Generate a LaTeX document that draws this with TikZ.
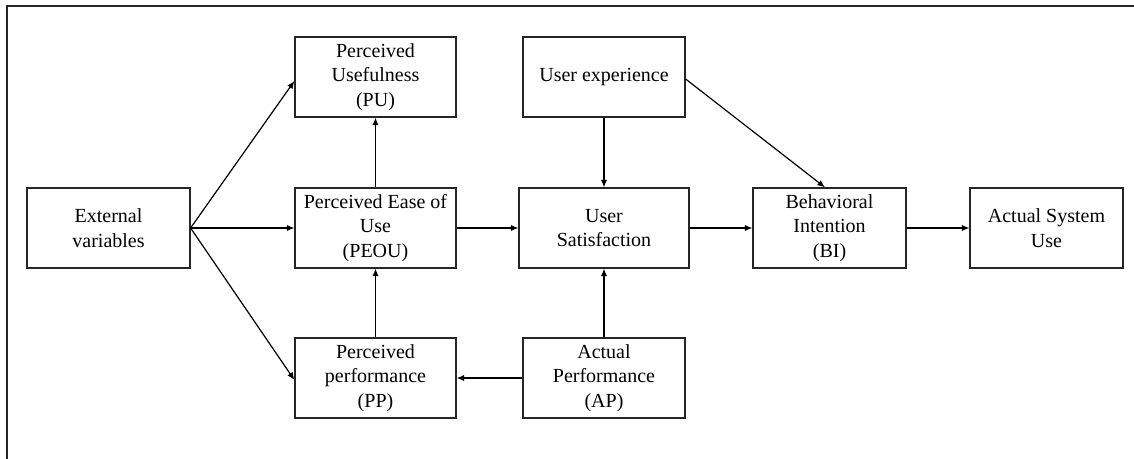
\documentclass[tikz,border=0pt]{standalone}
\usepackage{fontspec}
\setmainfont{Liberation Serif}
\usetikzlibrary{arrows.meta}
\begin{document}
\begin{tikzpicture}[x=0.5pt,y=-0.5pt,
  box/.style={draw=black!85, line width=0.6pt, inner sep=0pt, align=center,
    minimum height=40pt, font=\fontsize{10}{12.25}\selectfont},
  conn/.style={line width=0.6pt, -{Latex[length=3.8pt,width=3.2pt]}}]
\useasboundingbox (0,0) rectangle (1134,459);
\draw[line width=0.8pt, black!85] (7,459) -- (7,6) -- (1134,6);
\node[box, minimum width=81.5pt] (ext) at (108.5,228) {External\\variables};
\node[box, minimum width=80.5pt] (pu) at (375.5,77) {Perceived\\Usefulness\\(PU)};
\node[box, minimum width=80.5pt] (peou) at (375.5,228) {Perceived Ease of\\Use\\(PEOU)};
\node[box, minimum width=80.5pt] (pp) at (375.5,378) {Perceived\\performance\\(PP)};
\node[box, minimum width=81pt] (ue) at (604,77) {User experience};
\node[box, minimum width=85pt] (us) at (604,228) {User\\Satisfaction};
\node[box, minimum width=81pt] (ap) at (604,378) {Actual\\Performance\\(AP)};
\node[box, minimum width=76.5pt] (bi) at (829.5,228) {Behavioral\\Intention\\(BI)};
\node[box, minimum width=76.5pt] (asu) at (1046.5,228) {Actual System\\Use};
\draw[conn] (ext.east) -- ([yshift=-2pt]pu.west);
\draw[conn] (ext.east) -- (peou.west);
\draw[conn] (ext.east) -- ([yshift=-1pt]pp.west);
\draw[conn] (peou.north) -- (pu.south);
\draw[conn] (pp.north) -- (peou.south);
\draw[conn] (peou.east) -- (us.west);
\draw[conn] (ue.south) -- (us.north);
\draw[conn] ([yshift=-1pt]ue.east) -- ([xshift=-2.25pt]bi.north);
\draw[conn] (us.east) -- (bi.west);
\draw[conn] (bi.east) -- (asu.west);
\draw[conn] (ap.north) -- (us.south);
\draw[conn] (ap.west) -- (pp.east);
\end{tikzpicture}
\end{document}
